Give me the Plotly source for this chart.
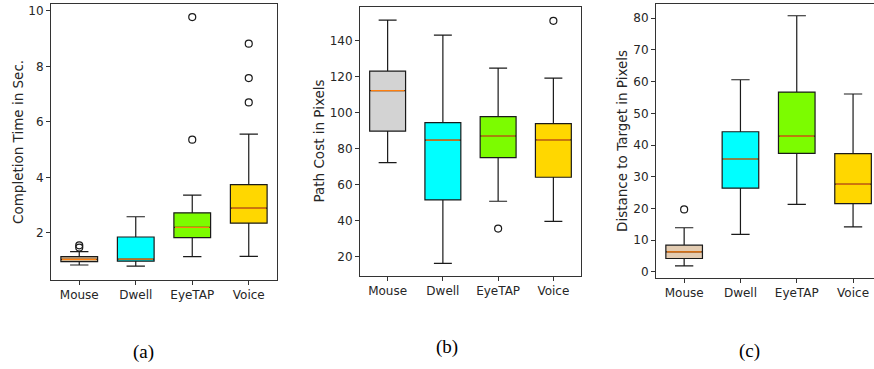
import plotly.graph_objects as go

W, H = 874, 369

categories = ["Mouse", "Dwell", "EyeTAP", "Voice"]

# (a) Completion time in seconds
a_low = [0.84, 0.80, 1.14, 1.15]
a_q1 = [0.96, 0.98, 1.83, 2.35]
a_med = [1.04, 1.05, 2.20, 2.89]
a_q3 = [1.14, 1.85, 2.72, 3.74]
a_high = [1.32, 2.58, 3.36, 5.56]
a_out = [[1.47, 1.55], [], [5.36, 9.78], [6.70, 7.58, 8.82]]

# (b) Path cost in pixels
b_low = [72.2, 16.3, 50.8, 39.6]
b_q1 = [89.7, 51.5, 75.0, 64.1]
b_med = [112.2, 84.7, 87.0, 84.8]
b_q3 = [123.0, 94.4, 97.8, 93.9]
b_high = [151.3, 143.0, 124.7, 119.1]
b_out = [[], [], [35.6], [150.9]]

# (c) Distance to target in pixels
c_low = [1.9, 11.8, 21.3, 14.2]
c_q1 = [4.2, 26.4, 37.4, 21.5]
c_med = [6.3, 35.6, 42.8, 27.7]
c_q3 = [8.4, 44.2, 56.7, 37.3]
c_high = [13.9, 60.6, 80.8, 56.1]
c_out = [[19.7], [], [], []]

colors_a = ["#d2b48c", "#00ffff", "#7cfc00", "#ffd700"]
colors_b = ["#d3d3d3", "#00ffff", "#7cfc00", "#ffd700"]
colors_c = ["#e3ccb2", "#00ffff", "#7cfc00", "#ffd700"]

panels = [
    dict(low=a_low, q1=a_q1, med=a_med, q3=a_q3, high=a_high, out=a_out, colors=colors_a,
         xpx=(51, 277), ypx=(4, 280), yrange=[0.30, 10.25], ytick=[2, 4, 6, 8, 10],
         title="Completion Time in Sec.", title_x=18, caption="(a)", cap_x=143, cap_y=352,
         xr=[0.5, 4.5]),
    dict(low=b_low, q1=b_q1, med=b_med, q3=b_q3, high=b_high, out=b_out, colors=colors_b,
         xpx=(360, 581), ypx=(7, 276), yrange=[9.3, 158.6], ytick=[20, 40, 60, 80, 100, 120, 140],
         title="Path Cost in Pixels", title_x=319, caption="(b)", cap_x=447, cap_y=347,
         xr=[0.5, 4.5]),
    dict(low=c_low, q1=c_q1, med=c_med, q3=c_q3, high=c_high, out=c_out, colors=colors_c,
         xpx=(656, 874), ypx=(4, 278), yrange=[-1.95, 84.5], ytick=[0, 10, 20, 30, 40, 50, 60, 70, 80],
         title="Distance to Target in Pixels", title_x=622, caption="(c)", cap_x=749, cap_y=351,
         xr=[0.5, 4.372]),
]

BOXW = 0.65
positions = [1, 2, 3, 4]


def px_x(v):
    return min(max(v / W, 0.0), 1.0)


def px_y(v):
    return min(max(1 - v / H, 0.0), 1.0)


fig = go.Figure()
layout = dict(
    width=W, height=H, margin=dict(l=0, r=0, t=0, b=0),
    paper_bgcolor="white", plot_bgcolor="white", showlegend=False,
    font=dict(family="DejaVu Sans", size=12, color="#262626"),
    annotations=[],
)

for i, p in enumerate(panels):
    n = "" if i == 0 else str(i + 1)
    xa, ya = "x" + n, "y" + n
    for j, cat in enumerate(categories):
        fig.add_trace(go.Box(
            x=[positions[j]], q1=[p["q1"][j]], median=[p["med"][j]], q3=[p["q3"][j]],
            lowerfence=[p["low"][j]], upperfence=[p["high"][j]],
            fillcolor=p["colors"][j], line=dict(color="#1a1a1a", width=1.2),
            width=BOXW, whiskerwidth=0.5, boxpoints=False, name=cat,
            xaxis=xa, yaxis=ya, hoverinfo="skip",
        ))
        # orange median line
        fig.add_trace(go.Scatter(
            x=[positions[j] - BOXW / 2 + 0.02, positions[j] + BOXW / 2 - 0.02],
            y=[p["med"][j], p["med"][j]],
            mode="lines", line=dict(color="#ff7f0e", width=1.2),
            xaxis=xa, yaxis=ya, hoverinfo="skip",
        ))
        if p["out"][j]:
            fig.add_trace(go.Scatter(
                x=[positions[j]] * len(p["out"][j]), y=p["out"][j], mode="markers",
                marker=dict(symbol="circle-open", size=7, color="#1a1a1a",
                            line=dict(width=1.2, color="#1a1a1a")),
                xaxis=xa, yaxis=ya, hoverinfo="skip",
            ))
    x0, x1 = p["xpx"]
    yt, yb = p["ypx"]
    axcommon = dict(showgrid=False, zeroline=False, showline=True, linecolor="#333333",
                    linewidth=1, mirror=True, ticks="outside", ticklen=4, tickcolor="#333333",
                    tickfont=dict(family="DejaVu Sans", size=12, color="#262626"))
    layout["xaxis" + n] = dict(domain=[px_x(x0), px_x(x1)], range=p["xr"],
                               tickvals=positions, ticktext=categories,
                               anchor=ya, **axcommon)
    layout["yaxis" + n] = dict(domain=[px_y(yb), px_y(yt)], range=p["yrange"],
                               tickvals=p["ytick"], anchor=xa, **axcommon)
    layout["annotations"].append(dict(
        text=p["title"], textangle=-90, xref="paper", yref="paper",
        x=px_x(p["title_x"]), y=px_y((yt + yb) / 2), showarrow=False,
        xanchor="center", yanchor="middle",
        font=dict(family="DejaVu Sans", size=13.5, color="#262626")))
    layout["annotations"].append(dict(
        text=p["caption"], xref="paper", yref="paper",
        x=px_x(p["cap_x"]), y=px_y(p["cap_y"]), showarrow=False,
        xanchor="center", yanchor="middle",
        font=dict(family="Liberation Serif", size=19, color="black")))

fig.update_layout(**layout)
# remove the page's default body margin so the 874x369 figure fills the window exactly
fig.write_html("out.html",
               config={"displayModeBar": False},
               post_script="document.body.style.margin='0';document.body.style.overflow='hidden';")
